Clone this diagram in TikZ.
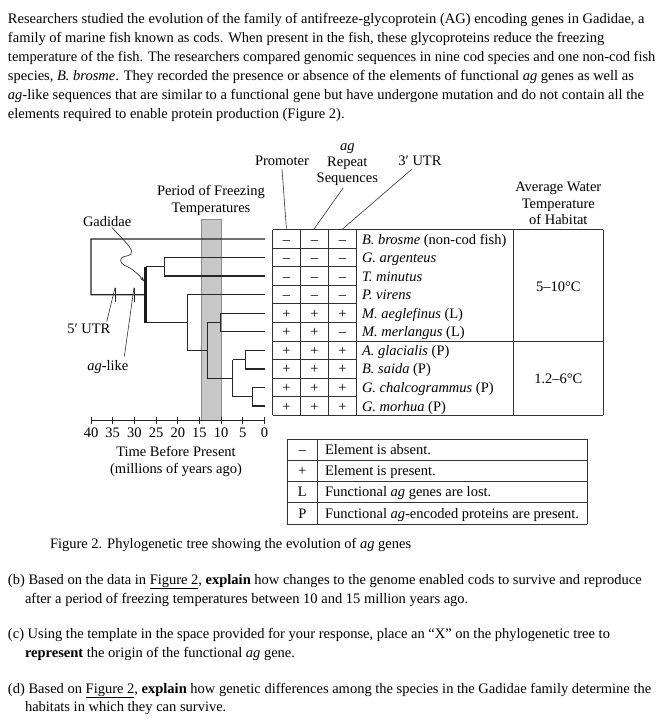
\documentclass[tikz,border=0pt]{standalone}
\usepackage{fontspec}
\setmainfont{Liberation Serif}
\usetikzlibrary{arrows.meta}
\newcommand{\fsz}{\fontsize{14.5}{19}\selectfont}
\begin{document}
\begin{tikzpicture}[x=1pt,y=-1pt,
  tx/.style={inner sep=0pt, outer sep=0pt, font=\fsz},
  bw/.style={tx, anchor=base west},
  bc/.style={tx, anchor=base},
  be/.style={tx, anchor=base east},
  tree/.style={line width=1.3pt, color=black!85, line join=miter},
  thickbr/.style={line width=2.6pt, color=black!90},
  grid/.style={line width=1pt, color=black!80},
  leader/.style={line width=0.6pt, color=black!80},
  band/.style={fill=black!22, draw=black!45, line width=1pt}
]
\useasboundingbox (0,0) rectangle (664,721);
\fill[white] (0,0) rectangle (664,721);

% ---------- intro paragraph ----------
\node[bw] (p1) at (8,23) {Researchers studied the evolution of the family of antifreeze-glycoprotein (AG) encoding genes in Gadidae, a};
\node[bw] (p2) at (8,42) {family of marine fish known as cods. When present in the fish, these glycoproteins reduce the freezing};
\node[bw] (p3) at (8,61) {temperature of the fish. The researchers compared genomic sequences in nine cod species and one non-cod fish};
\node[bw] (p4) at (8,80) {species, \textit{B. brosme}. They recorded the presence or absence of the elements of functional \textit{ag} genes as well as};
\node[bw] (p5) at (8,99) {\textit{ag}-like sequences that are similar to a functional gene but have undergone mutation and do not contain all the};
\node[bw] (p6) at (8,118) {elements required to enable protein production (Figure 2).};

% ---------- freezing band ----------
\path[band] (201,219.3) rectangle (221,420);

% ---------- coordinates ----------
\def\rh{18.555}
\def\ttop{229.75}
\foreach \k in {0,...,9}{
  \pgfmathsetmacro{\yy}{\ttop+\rh*(\k+0.5)}
  \coordinate (L\k) at (265,\yy);
}
% internal nodes
\coordinate (R)  at (91,0);
\coordinate (A)  at (145.5,294.7);
\coordinate (B)  at (164.3,266.8);
\coordinate (C)  at (187.3,322.5);
\coordinate (D)  at (207.3,350.4);
\coordinate (E)  at (220.3,322.6);
\coordinate (F)  at (232.7,378.2);
\coordinate (G)  at (245.3,359.7);
\coordinate (H)  at (252.7,396.7);

% ---------- tree ----------
\draw[tree] (L0) -| (R |- L3) -- (A);
\draw[thickbr] (145.5,266.8) -- (145.5,322.5);
\draw[tree] (145.5,266.8) -- (B);
\draw[tree] (L1) -| (B) |- (L2);
\draw[tree] (145.5,322.5) -- (C);
\draw[tree] (L3) -| (C |- L3) -- (C |- D) -- (D);
\draw[tree] (207.3,322.6) -- (207.3,378.2);
\draw[tree] (207.3,322.6) -- (E);
\draw[tree] (L4) -| (E |- L4) -- (E |- L5) -- (L5);
\draw[tree] (207.3,378.2) -- (F);
\draw[tree] (232.7,359.7) -- (232.7,396.7);
\draw[tree] (232.7,359.7) -- (G);
\draw[tree] (L6) -| (G |- L6) -- (G |- L7) -- (L7);
\draw[tree] (232.7,396.7) -- (H);
\draw[tree] (L8) -| (H |- L8) -- (H |- L9) -- (L9);

% ticks on root branch
\coordinate (t5) at (115,294.7);
\coordinate (tag) at (134,294.7);
\draw[tree,line width=1pt] ([yshift=-7pt]t5) -- ([yshift=7pt]t5);
\draw[tree,line width=1pt] ([yshift=-7pt]tag) -- ([yshift=7pt]tag);

% ---------- axis ----------
\coordinate (ax0) at (91,420);
\coordinate (ax1) at (264.5,420);
\draw[tree,line width=1pt] (ax0) -- (ax1);
\foreach \v [count=\i] in {40,35,30,25,20,15,10,5,0}{
  \pgfmathsetmacro{\xx}{264.5-4.3375*\v}
  \draw[tree,line width=0.8pt] (\xx,416.5) -- (\xx,423.5);
  \node[bc] (axl\i) at (\xx,437) {\v};
}
\node[bc] (tbp) at (176,456) {Time Before Present};
\node[bc] (mya) at (176,473) {(millions of years ago)};

% ---------- tree labels ----------
\node[bw] (gad) at (83,226.5) {Gadidae};
\coordinate (gadS) at (112,227.5);
\coordinate (gadE) at (144.2,281.5);
\draw[leader,line width=0.7pt,-{Stealth[length=5pt,width=3.5pt]}] (gadS)
   .. controls (120,237) and (130,245) .. (131.5,251)
   .. controls (133,257) and (124,255) .. (121.5,258)
   .. controls (119,261) and (122,265) .. (128,267)
   .. controls (134,270) and (140,276) .. (gadE);
\node[bc] (pf1) at (211,195.5) {Period of Freezing};
\node[bc] (pf2) at (211,212.5) {Temperatures};
\node[bw] (utr5) at (67.3,333) {5′ UTR};
\node[bw] (aglike) at (87.3,370) {\textit{ag}-like};
\draw[leader] ([yshift=7pt]t5) -- (106.7,321.7);
\draw[leader] ([yshift=7pt]tag) -- (124.3,356.7);

% ---------- column headers ----------
\node[be] (prom) at (309,165) {Promoter};
\node[bc] (agh) at (347.3,150) {\textit{ag}};
\node[bc] (rep) at (347.3,166.5) {Repeat};
\node[bc] (seq) at (347.3,182.5) {Sequences};
\node[bc] (utr3) at (420,165) {3′ UTR};
\node[bc] (aw1) at (558.3,191.5) {Average Water};
\node[bc] (aw2) at (558.3,208) {Temperature};
\node[bc] (aw3) at (558.3,224) {of Habitat};
\draw[leader] (282,169) -- (286.5,229.75);
\draw[leader] (343.3,187.7) -- (313.5,229.75);
\draw[leader] (411.7,169.3) -- (341.7,229.75);

% ---------- table ----------
\foreach \k in {0,...,10}{
  \pgfmathsetmacro{\yy}{\ttop+\rh*\k}
  \draw[grid] (272.5,\yy) -- (356.5,\yy);
}
\foreach \k in {0,6,10}{
  \pgfmathsetmacro{\yy}{\ttop+\rh*\k}
  \draw[grid] (356.5,\yy) -- (603.3,\yy);
}
\foreach \xx in {272.5,300.5,328.5,356.5,513.3,603.3}{
  \draw[grid] (\xx,229.75) -- (\xx,415.3);
}
% entries
\foreach \k/\a/\b/\c in {0/–/–/–,1/–/–/–,2/–/–/–,3/–/–/–,4/+/+/+,5/+/+/–,6/+/+/+,7/+/+/+,8/+/+/+,9/+/+/+}{
  \pgfmathsetmacro{\yy}{\ttop+\rh*(\k+0.5)+5}
  \node[bc] (ca\k) at (286.5,\yy) {\a};
  \node[bc] (cb\k) at (314.5,\yy) {\b};
  \node[bc] (cc\k) at (342.5,\yy) {\c};
}
\foreach \k/\s in {0/{\textit{B. brosme} (non-cod fish)},1/{\textit{G. argenteus}},2/{\textit{T. minutus}},3/{\textit{P. virens}},4/{\textit{M. aeglefinus} (L)},5/{\textit{M. merlangus} (L)},6/{\textit{A. glacialis} (P)},7/{\textit{B. saida} (P)},8/{\textit{G. chalcogrammus} (P)},9/{\textit{G. morhua} (P)}}{
  \pgfmathsetmacro{\yy}{\ttop+\rh*(\k+0.5)+5}
  \node[bw] (sp\k) at (362,\yy) {\s};
}
\node[bc] (temp1) at (558.3,291) {5–10°C};
\node[bc] (temp2) at (558.3,383) {1.2–6°C};

% ---------- legend ----------
\foreach \yy in {439.3,460.5,481.5,502.5,524.3}{
  \draw[grid] (287.3,\yy) -- (587.3,\yy);
}
\foreach \xx in {287.3,317.3,587.3}{
  \draw[grid] (\xx,439.3) -- (\xx,524.3);
}
\node[bc] (lg1s) at (302.3,454.7) {–};
\node[bw] (lg1t) at (325,454.7) {Element is absent.};
\node[bc] (lg2s) at (302.3,475.7) {+};
\node[bw] (lg2t) at (325,475.7) {Element is present.};
\node[bc] (lg3s) at (302.3,496.7) {L};
\node[bw] (lg3t) at (325,496.7) {Functional \textit{ag} genes are lost.};
\node[bc] (lg4s) at (302.3,518) {P};
\node[bw] (lg4t) at (325,518) {Functional \textit{ag}-encoded proteins are present.};

% ---------- caption and questions ----------
\node[bw] (cap) at (50,548) {Figure 2. Phylogenetic tree showing the evolution of \textit{ag} genes};
\node[bw] (qb1) at (8,584) {(b) Based on the data in \underline{Figure 2}, \textbf{explain} how changes to the genome enabled cods to survive and reproduce};
\node[bw] (qb2) at (25,603) {after a period of freezing temperatures between 10 and 15 million years ago.};
\node[bw] (qc1) at (8,638) {(c) Using the template in the space provided for your response, place an “X” on the phylogenetic tree to};
\node[bw] (qc2) at (25,657) {\textbf{represent} the origin of the functional \textit{ag} gene.};
\node[bw] (qd1) at (8,693) {(d) Based on \underline{Figure 2}, \textbf{explain} how genetic differences among the species in the Gadidae family determine the};
\node[bw] (qd2) at (25,711) {habitats in which they can survive.};
\end{tikzpicture}
\end{document}
